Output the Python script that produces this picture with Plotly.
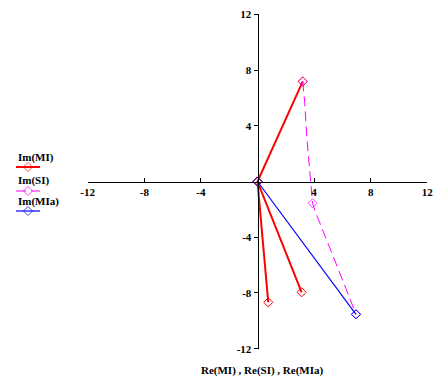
import plotly.graph_objects as go

# ---- data ----
mi_re = [3.2, 0.0, 3.12, 0.0, 0.76]
mi_im = [7.18, 0.0, -7.95, 0.0, -8.67]

si_re = [3.2, 3.34, 3.48, 3.66, 3.78, 3.89, 4.13, 4.42, 4.93, 5.36, 5.64, 6.06, 6.42, 6.66, 6.96]
si_im = [7.18, 5.64, 3.22, 0.83, -0.37, -1.56, -2.28, -3.0, -4.2, -5.4, -6.12, -7.24, -8.15, -8.74, -9.53]
si_marked = [0, 5, 14]  # indices drawn with a symbol

mia_re = [0.0, 6.96]
mia_im = [0.0, -9.53]

tick_vals = [-12, -8, -4, 4, 8, 12]
tick_text = ["-12", "-8", "-4", "4", "8", "12"]

legend_labels = ["Im(MI)", "Im(SI)", "Im(MIa)"]
x_title = "Re(MI) , Re(SI) , Re(MIa)"

RED = "#ff0000"
MAG = "#ff00ff"
BLUE = "#0000ff"
FONT = dict(family="Liberation Serif", size=11, color="black")

W, H = 448, 377

fig = go.Figure()

fig.add_trace(go.Scatter(
    x=mi_re, y=mi_im, mode="lines+markers",
    line=dict(color=RED, width=2),
    marker=dict(symbol="diamond-open", size=7, color=RED, line=dict(width=1, color=RED)),
    showlegend=False))

si_sizes = [7 if i in si_marked else 0 for i in range(len(si_re))]
fig.add_trace(go.Scatter(
    x=si_re, y=si_im, mode="lines+markers",
    line=dict(color=MAG, width=1, dash="10px,5px"),
    marker=dict(symbol="diamond-open", size=si_sizes, color=MAG, line=dict(width=1, color=MAG)),
    showlegend=False))

fig.add_trace(go.Scatter(
    x=mia_re, y=mia_im, mode="lines+markers",
    line=dict(color=BLUE, width=1.2),
    marker=dict(symbol="diamond-open", size=7, color=BLUE, line=dict(width=1, color=BLUE)),
    showlegend=False))

# ---- custom Mathcad-style legend (label above a line sample) ----
leg_colors = [RED, MAG, BLUE]
leg_dash = ["solid", "10px,5px", "solid"]
leg_width = [2, 1, 1.2]
leg_text_y = [157, 180, 201]
leg_line_y = [167, 191, 211]
for lab, col, dsh, lw, ty, ly in zip(legend_labels, leg_colors, leg_dash, leg_width, leg_text_y, leg_line_y):
    fig.add_trace(go.Scatter(
        x=[16, 28, 40], y=[ly, ly, ly], xaxis="x2", yaxis="y2",
        mode="lines+markers",
        line=dict(color=col, width=lw, dash=dsh),
        marker=dict(symbol="diamond-open", size=[0, 7, 0], color=col, line=dict(width=1, color=col)),
        showlegend=False, hoverinfo="skip"))
    fig.add_annotation(x=16, y=ty, xref="x2", yref="y2", text="<b>%s</b>" % lab,
                       showarrow=False, xanchor="left", yanchor="middle", font=FONT)

fig.add_annotation(x=262 / W, y=1 - 370 / H, xref="paper", yref="paper",
                   text="<b>%s</b>" % x_title, showarrow=False,
                   xanchor="center", yanchor="middle", font=FONT)

x0, x1 = 87.7, 427.3
y0, y1 = 14.3, 348.7
fig.update_layout(
    width=W, height=H, autosize=False,
    margin=dict(l=0, r=0, t=0, b=0, pad=0),
    paper_bgcolor="white", plot_bgcolor="white",
    font=FONT,
    xaxis=dict(domain=[x0 / W, x1 / W], range=[-12, 12], anchor="free",
               position=1 - 181.5 / H, automargin=False,
               showline=True, linecolor="black", linewidth=1,
               ticks="inside", ticklen=4, tickcolor="black",
               tickvals=tick_vals, ticktext=["<b>%s</b>" % t for t in tick_text],
               showgrid=False, zeroline=False, fixedrange=True),
    yaxis=dict(domain=[1 - y1 / H, 1 - y0 / H], range=[-12, 12], anchor="free",
               position=257.5 / W, automargin=False,
               showline=True, linecolor="black", linewidth=1,
               ticks="outside", ticklen=4, tickcolor="black",
               tickvals=tick_vals, ticktext=["<b>%s</b>" % t for t in tick_text],
               showgrid=False, zeroline=False, fixedrange=True),
    xaxis2=dict(domain=[0, 85 / W], range=[0, 85], visible=False, fixedrange=True,
                automargin=False),
    yaxis2=dict(domain=[0, 1], range=[H, 0], visible=False, anchor="x2", fixedrange=True,
                automargin=False),
)

fig.write_html(
    "out.html",
    config={"displayModeBar": False, "responsive": False},
    post_script="document.body.style.margin='0';document.body.style.overflow='hidden';",
)
